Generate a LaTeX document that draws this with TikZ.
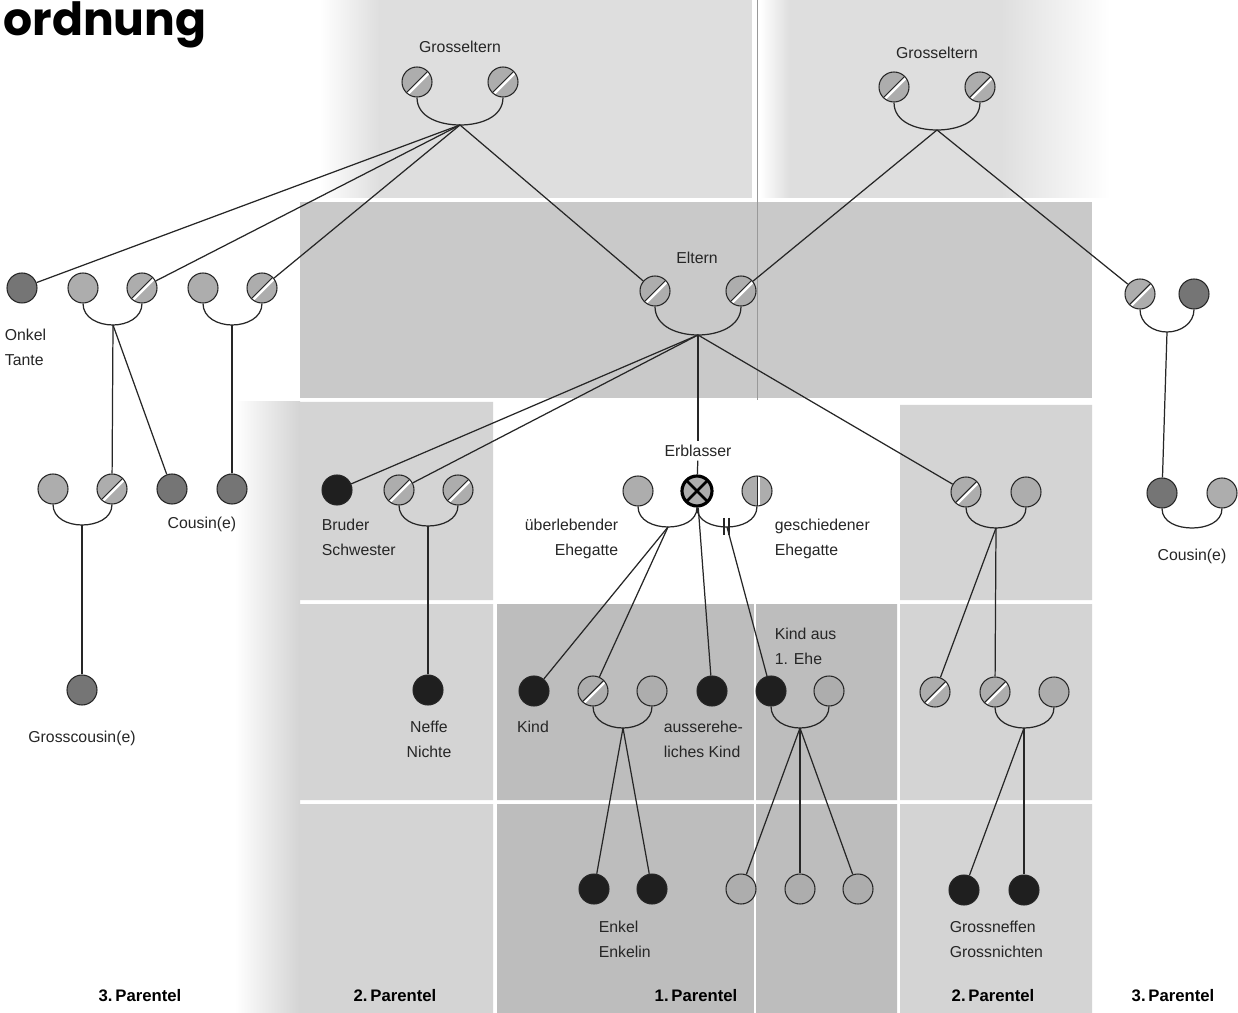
\documentclass[tikz,border=0pt]{standalone}
\usepackage{fontspec}
\setmainfont{Liberation Sans}
\newfontfamily\titelfont{Poppins}
\usetikzlibrary{positioning}

\definecolor{bgoben}{gray}{0.87}
\definecolor{bgeltern}{gray}{0.79}
\definecolor{bgzwei}{gray}{0.83}
\definecolor{bgeins}{gray}{0.74}
\definecolor{pgrau}{gray}{0.68}
\definecolor{dgrau}{gray}{0.46}
\definecolor{pschwarz}{gray}{0.12}
\definecolor{linie}{gray}{0.15}

\begin{document}
\begin{tikzpicture}[x=0.02cm,y=-0.02cm,
  every edge/.style={draw=linie,line width=0.7pt},
  pers/.style={circle,draw=linie,line width=0.6pt,fill=pgrau,minimum size=0.6cm,inner sep=0pt},
  dunkel/.style={pers,fill=dgrau},
  schwarz/.style={pers,fill=pschwarz},
  tot/.style={pers,path picture={
    \draw[white,line width=1.4pt] ([shift={(0.8pt,-0.8pt)}]path picture bounding box.south west) -- ([shift={(0.8pt,-0.8pt)}]path picture bounding box.north east);
    \draw[linie,line width=0.6pt] (path picture bounding box.south west) -- (path picture bounding box.north east);}},
  geschieden/.style={pers,path picture={
    \draw[white,line width=1.4pt] ([xshift=0.9pt]path picture bounding box.north) -- ([xshift=0.9pt]path picture bounding box.south);
    \draw[linie,line width=0.5pt] (path picture bounding box.north) -- (path picture bounding box.south);}},
  erblasser/.style={pers,draw=black,line width=1.8pt,path picture={
    \draw[black,line width=1.5pt] (path picture bounding box.south west) -- (path picture bounding box.north east)
      (path picture bounding box.north west) -- (path picture bounding box.south east);}},
  ehe/.style={draw=linie,line width=0.7pt},
  txt/.style={font=\fontsize{9}{14.2}\selectfont,text=black!85,inner sep=2pt,align=center},
  txtl/.style={txt,align=left},
  txtr/.style={txt,align=right},
  parentel/.style={font=\fontsize{9.5}{11}\selectfont\bfseries,text=black},
  titel/.style={font=\titelfont\fontsize{26}{30}\selectfont\bfseries,inner sep=0pt}
]
\useasboundingbox (0,0) rectangle (1238,1013);
\fill[white] (0,0) rectangle (1238,1013);
\shade[left color=white,right color=bgoben] (320,0) rectangle (380,198);
\fill[bgoben] (380,0) rectangle (752,198);
\shade[left color=white,right color=bgoben] (760,0) rectangle (790,198);
\fill[bgoben] (790,0) rectangle (1000,198);
\shade[left color=bgoben,right color=white] (1000,0) rectangle (1110,198);
\fill[bgeltern] (300,202) rectangle (1092,398);
\shade[left color=white,right color=bgzwei] (235,402) rectangle (300,1013);
\fill[bgzwei] (300,402) rectangle (493,600) (300,604) rectangle (493,800) (300,804) rectangle (493,1013);
\fill[bgeins] (497,604) rectangle (897,800) (497,804) rectangle (897,1013);
\fill[bgzwei] (900,405) rectangle (1092,600) (900,604) rectangle (1092,800) (900,804) rectangle (1092,1013);
\draw[white,line width=1pt] (755,604) -- (755,1013);
\draw[black!40,line width=0.3pt] (757,0) -- (757,400);

\node[titel,anchor=base west] (titel) at (3,36) {ordnung};

\node[tot] (gl1) at (417,82) {};
\node[tot] (gl2) at (503,82) {};
\node[tot] (gr1) at (894,87) {};
\node[tot] (gr2) at (980,87) {};
\node[tot] (el1) at (655,291) {};
\node[tot] (el2) at (741,291) {};
\node[dunkel] (on) at (22,288) {};
\node[pers] (ua1) at (83,288) {};
\node[tot] (ua2) at (142,288) {};
\node[pers] (ub1) at (203,288) {};
\node[tot] (ub2) at (262,288) {};
\node[pers] (ca1) at (53,489) {};
\node[tot] (ca2) at (112,489) {};
\node[dunkel] (co1) at (172,489) {};
\node[dunkel] (co2) at (232,489) {};
\node[dunkel] (gc) at (82,690) {};
\node[tot] (ur1) at (1140,294) {};
\node[dunkel] (ur2) at (1194,294) {};
\node[dunkel] (cr1) at (1162,493) {};
\node[pers] (cr2) at (1222,493) {};
\node[schwarz] (br) at (337,490) {};
\node[tot] (bs1) at (399,490) {};
\node[tot] (bs2) at (458,490) {};
\node[schwarz] (nf) at (428,690) {};
\node[pers] (ue) at (638,491) {};
\node[erblasser] (erb) at (697,491) {};
\node[geschieden] (gs) at (757,491) {};
\node[schwarz] (ki) at (534,691) {};
\node[tot] (kp1) at (593,691) {};
\node[pers] (kp2) at (652,691) {};
\node[schwarz] (ak) at (712,691) {};
\node[schwarz] (ke) at (771,691) {};
\node[pers] (ke2) at (829,691) {};
\node[schwarz] (en1) at (594,889) {};
\node[schwarz] (en2) at (652,889) {};
\node[pers] (ek1) at (741,889) {};
\node[pers] (ek2) at (800,889) {};
\node[pers] (ek3) at (858,889) {};
\node[tot] (rs1) at (966,492) {};
\node[pers] (rs2) at (1026,492) {};
\node[tot] (rn1) at (935,692) {};
\node[tot] (rn2) at (995,692) {};
\node[pers] (rn3) at (1054,692) {};
\node[schwarz] (gn1) at (964,890) {};
\node[schwarz] (gn2) at (1024,890) {};

\coordinate (glf) at (460,125);
\coordinate (grf) at (937,130);
\coordinate (elf) at (698,335);
\coordinate (uaf) at (113,325);
\coordinate (ubf) at (232,325);
\coordinate (caf) at (82,525);
\coordinate (urf) at (1167,332);
\coordinate (crf) at (1192,528);
\coordinate (bsf) at (428,526);
\coordinate (uef) at (668,527);
\coordinate (gsf) at (727,527);
\coordinate (kpf) at (623,728);
\coordinate (kef) at (800,728);
\coordinate (rsf) at (996,528);
\coordinate (rnf) at (1024,728);

\node[txt] (grossl) at (460,47) {Grosseltern};
\node[txt] (grossr) at (937,53) {Grosseltern};
\node[txt] (eltern) at (697,258) {Eltern};
\node[txtl,anchor=west] (onkel) at (1,347) {Onkel\\Tante};
\node[txt] (cousinl) at (202,524) {Cousin(e)};
\node[txt] (grosscousin) at (82,738) {Grosscousin(e)};
\node[txt] (cousinr) at (1192,556) {Cousin(e)};
\node[txtl,anchor=west] (bruder) at (318,537) {Bruder\\Schwester};
\node[txt] (neffe) at (429,739) {Neffe\\Nichte};
\node[txt] (erbtxt) at (698,451) {Erblasser};
\node[txtr,anchor=east] (ueber) at (622,539) {überlebender\\Ehegatte};
\node[txtl,anchor=west] (gesch) at (771,539) {geschiedener\\Ehegatte};
\node[txt] (kind) at (533,727) {Kind};
\node[txtl,anchor=west] (ausser) at (660,739) {ausserehe-\\liches Kind};
\node[txtl,anchor=west] (kaus) at (771,646) {Kind aus\\1. Ehe};
\node[txtl,anchor=west] (enkel) at (595,939) {Enkel\\Enkelin};
\node[txtl,anchor=west] (grossneffen) at (946,939) {Grossneffen\\Grossnichten};

\node[parentel] (p3l) at (140,996) {3.\,Parentel};
\node[parentel] (p2l) at (395,996) {2.\,Parentel};
\node[parentel] (p1) at (696,996) {1.\,Parentel};
\node[parentel] (p2r) at (993,996) {2.\,Parentel};
\node[parentel] (p3r) at (1173,996) {3.\,Parentel};

\draw[ehe] (gl1.south) to[out=-90,in=180] (glf) to[out=0,in=-90] (gl2.south);
\draw[ehe] (gr1.south) to[out=-90,in=180] (grf) to[out=0,in=-90] (gr2.south);
\draw[ehe] (el1.south) to[out=-90,in=180] (elf) to[out=0,in=-90] (el2.south);
\draw[ehe] (ua1.south) to[out=-90,in=180] (uaf) to[out=0,in=-90] (ua2.south);
\draw[ehe] (ub1.south) to[out=-90,in=180] (ubf) to[out=0,in=-90] (ub2.south);
\draw[ehe] (ca1.south) to[out=-90,in=180] (caf) to[out=0,in=-90] (ca2.south);
\draw[ehe] (ur1.south) to[out=-90,in=180] (urf) to[out=0,in=-90] (ur2.south);
\draw[ehe] (cr1.south) to[out=-90,in=180] (crf) to[out=0,in=-90] (cr2.south);
\draw[ehe] (bs1.south) to[out=-90,in=180] (bsf) to[out=0,in=-90] (bs2.south);
\draw[ehe] (ue.south) to[out=-90,in=180] (uef) to[out=0,in=-90] (erb.south);
\draw[ehe] (erb.south) to[out=-90,in=180] (gsf) to[out=0,in=-90] (gs.south);
\draw[ehe] (kp1.south) to[out=-90,in=180] (kpf) to[out=0,in=-90] (kp2.south);
\draw[ehe] (ke.south) to[out=-90,in=180] (kef) to[out=0,in=-90] (ke2.south);
\draw[ehe] (rs1.south) to[out=-90,in=180] (rsf) to[out=0,in=-90] (rs2.south);
\draw[ehe] (rn2.south) to[out=-90,in=180] (rnf) to[out=0,in=-90] (rn3.south);
\draw[ehe] ([shift={(-3,-9)}]gsf) -- ([shift={(-3,8)}]gsf)
           ([shift={(2,-9)}]gsf) -- ([shift={(2,8)}]gsf);

\path (glf) edge (on) edge (ua2) edge (ub2) edge (el1)
      (grf) edge (el2) edge (ur1)
      (elf) edge (br) edge (bs1) edge (erbtxt) edge (rs1)
      (erbtxt) edge (erb)
      (uaf) edge (ca2) edge (co1)
      (ubf) edge (co2)
      (caf) edge (gc)
      (urf) edge (cr1)
      (bsf) edge (nf)
      (uef) edge (ki) edge (kp1)
      (erb) edge (ak)
      (gsf) edge (ke)
      (kpf) edge (en1) edge (en2)
      (kef) edge (ek1) edge (ek2) edge (ek3)
      (rsf) edge (rn1) edge (rn2)
      (rnf) edge (gn1) edge (gn2);
\end{tikzpicture}
\end{document}
